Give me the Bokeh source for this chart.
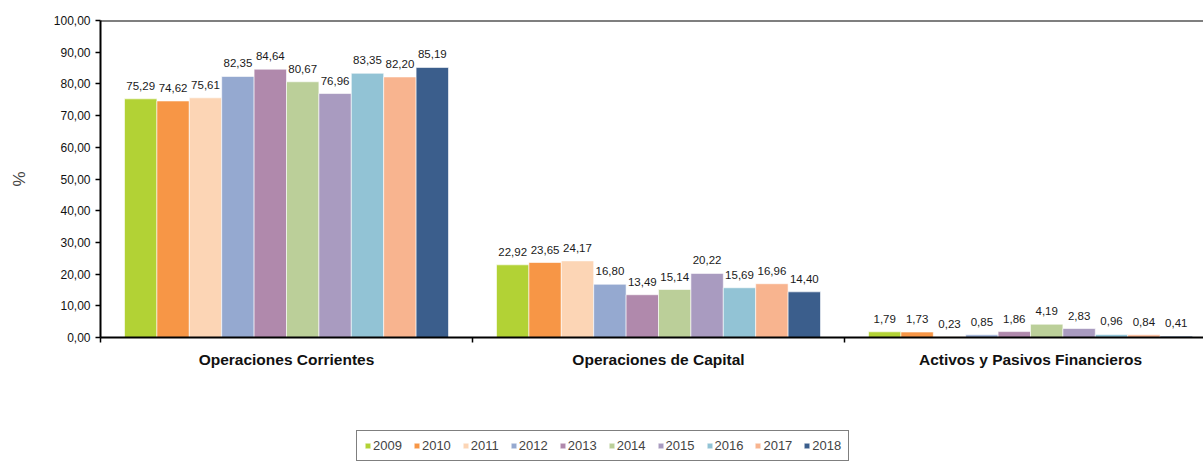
from bokeh.plotting import figure
from bokeh.layouts import column
from bokeh.models import ColumnDataSource, Range1d, FixedTicker, Legend, LegendItem, Span
from bokeh.embed import file_html
from bokeh.resources import INLINE
from bokeh.core.properties import value

categories = ["Operaciones Corrientes", "Operaciones de Capital", "Activos y Pasivos Financieros"]
years = ["2009", "2010", "2011", "2012", "2013", "2014", "2015", "2016", "2017", "2018"]
colors = ["#B2D235", "#F79646", "#FCD5B5", "#95A9D0", "#B089AC",
          "#BBCF99", "#A99BC0", "#92C3D5", "#F8B48F", "#3B5E8C"]

v2009 = [75.29, 22.92, 1.79]
v2010 = [74.62, 23.65, 1.73]
v2011 = [75.61, 24.17, 0.23]
v2012 = [82.35, 16.80, 0.85]
v2013 = [84.64, 13.49, 1.86]
v2014 = [80.67, 15.14, 4.19]
v2015 = [76.96, 20.22, 2.83]
v2016 = [83.35, 15.69, 0.96]
v2017 = [82.20, 16.96, 0.84]
v2018 = [85.19, 14.40, 0.41]
series = [v2009, v2010, v2011, v2012, v2013, v2014, v2015, v2016, v2017, v2018]

y_ticks = [0, 10, 20, 30, 40, 50, 60, 70, 80, 90, 100]

FONT = "Liberation Sans"
frame_w, frame_h = 1103, 317
group_px = 372.0
n = len(years)
bw = (324.0 / group_px) / n

p = figure(width=1203, height=377, frame_width=frame_w, frame_height=frame_h,
           x_range=Range1d(0, frame_w / group_px), y_range=Range1d(0, 100),
           output_backend="svg", toolbar_location=None,
           min_border_left=100, min_border_right=0, min_border_top=20, min_border_bottom=40)
p.outline_line_color = None
p.xgrid.visible = False
p.ygrid.visible = False

for j, (yr, vals, col) in enumerate(zip(years, series, colors)):
    xs = [g + 0.5 + (j - (n - 1) / 2) * bw for g in range(len(categories))]
    src = ColumnDataSource(dict(x=xs, top=vals,
                                lab=[f"{v:.2f}".replace(".", ",") for v in vals]))
    p.vbar(x="x", top="top", width=bw, bottom=0, source=src,
           fill_color=col, line_color="white", line_width=0.6)
    p.text(x="x", y="top", text="lab", source=src, text_align="center",
           text_baseline="bottom", y_offset=-9, text_font=value(FONT),
           text_font_size="11.5px", text_color="#1a1a1a")

# y axis
ya = p.yaxis[0]
ya.ticker = FixedTicker(ticks=y_ticks)
ya.major_label_overrides = {t: f"{t:.2f}".replace(".", ",") for t in y_ticks}
ya.major_label_text_font = FONT
ya.major_label_text_font_size = "12px"
ya.major_label_text_color = "#111111"
ya.major_tick_in = 0
ya.major_tick_out = 5
ya.minor_tick_line_color = None
ya.axis_line_width = 2
ya.axis_line_color = "black"
ya.major_tick_line_width = 1.5
ya.axis_label = "%"
ya.axis_label_text_font = FONT
ya.axis_label_text_font_style = "normal"
ya.axis_label_text_font_size = "17px"
ya.axis_label_standoff = 22

# x axis
xa = p.xaxis[0]
xa.ticker = FixedTicker(ticks=[g + 0.5 for g in range(len(categories))],
                        minor_ticks=[float(g) for g in range(len(categories) + 1)])
xa.major_label_overrides = {g + 0.5: c for g, c in enumerate(categories)}
xa.major_label_text_font = FONT
xa.major_label_text_font_style = "bold"
xa.major_label_text_font_size = "15.5px"
xa.major_label_text_color = "#111111"
xa.major_tick_in = 0
xa.major_tick_out = 0
xa.minor_tick_in = 0
xa.minor_tick_out = 5
xa.minor_tick_line_width = 1.5
xa.minor_tick_line_color = "black"
xa.axis_line_width = 2
xa.axis_line_color = "black"
xa.major_label_standoff = 8

p.add_layout(Span(location=100, dimension="width", line_color="black", line_width=2))

# legend figure below the chart (placeholder bars of zero size)
lg = figure(width=1203, height=87, x_range=Range1d(0, 1), y_range=Range1d(0, 1),
            output_backend="svg", toolbar_location=None, min_border=0)
lg.axis.visible = False
lg.grid.visible = False
lg.outline_line_color = None
items = []
for yr, col in zip(years, colors):
    r = lg.vbar(x=[0.5], top=[0], bottom=0, width=0, fill_color=col,
                line_color="white", line_width=0.6)
    items.append(LegendItem(label=yr, renderers=[r]))

legend = Legend(items=items, orientation="horizontal", location=(256, 3),
                label_text_font=FONT, label_text_font_size="13px",
                glyph_width=7, glyph_height=7, label_standoff=2, spacing=11,
                padding=7, margin=0, border_line_color="black", border_line_width=1.5,
                background_fill_color="white", label_height=12)
lg.add_layout(legend, "center")

layout = column(p, lg, spacing=0)
open("out.html", "w").write(file_html(layout, INLINE))
